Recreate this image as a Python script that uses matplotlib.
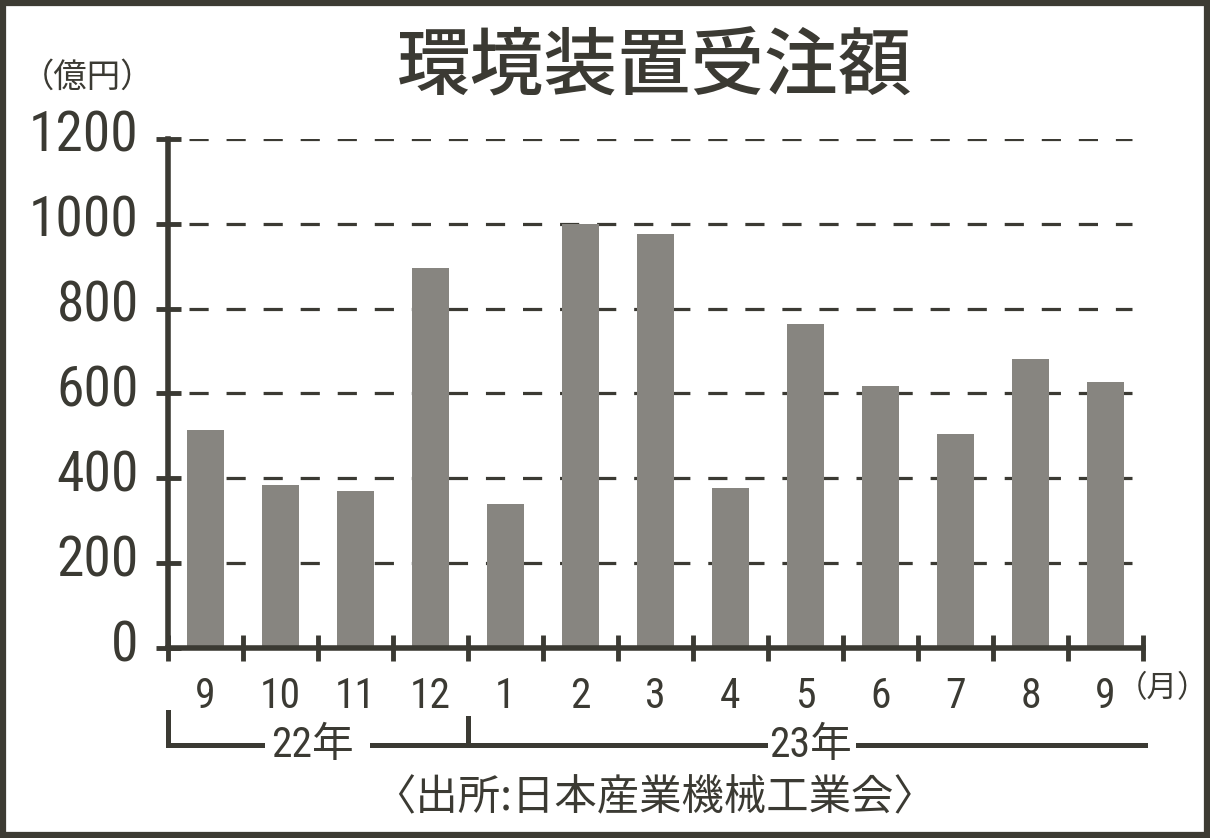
import numpy as np
import matplotlib.pyplot as plt
from matplotlib.patches import Rectangle
from matplotlib.transforms import blended_transform_factory, ScaledTranslation

months = ['9', '10', '11', '12', '1', '2', '3', '4', '5', '6', '7', '8', '9']
orders = [515, 384, 370, 896, 339, 1000, 976, 377, 764, 618, 504, 681, 627]
yticks = [0, 200, 400, 600, 800, 1000, 1200]

ink = '#3b3a33'
bar_col = '#878580'
num_font = ['Roboto Condensed', 'Noto Sans CJK JP', 'DejaVu Sans']
cjk_font = ['Noto Sans CJK JP', 'DejaVu Sans']

fig = plt.figure(figsize=(12.1, 8.38), dpi=100, facecolor='white')
ax = fig.add_axes([168 / 1210, 1 - 648 / 838, 975 / 1210, 509 / 838])
ax.set_facecolor('white')

x = np.arange(len(months))
ax.bar(x, orders, width=0.5, color=bar_col, zorder=2)

ax.set_xlim(-0.5, len(months) - 0.5)
ax.set_ylim(0, 1200)

# dashed grid
for v in yticks[1:]:
    ax.plot([-0.22, 12.35], [v, v], color=ink, lw=2.3, dashes=(6.0, 5.6), zorder=1)

for s in ['top', 'right']:
    ax.spines[s].set_visible(False)
for s in ['left', 'bottom']:
    ax.spines[s].set_linewidth(4)
    ax.spines[s].set_color(ink)
    ax.spines[s].set_zorder(3)

ax.set_yticks(yticks)
ax.set_yticklabels([str(v) for v in yticks], family=num_font, fontsize=40, color=ink)
ax.tick_params(axis='y', direction='inout', length=18, width=3.5, color=ink, pad=12)
off = ScaledTranslation(0, 8 / 100, fig.dpi_scale_trans)
for lab in ax.get_yticklabels():
    lab.set_transform(lab.get_transform() + off)

ax.set_xticks(x)
ax.set_xticklabels(months, family=num_font, fontsize=30, color=ink)
ax.tick_params(axis='x', which='major', length=0, pad=20)
ax.set_xticks(np.arange(-0.5, len(months)), minor=True)
ax.tick_params(axis='x', which='minor', direction='inout', length=19, width=3.5, color=ink)

# year brackets
tr = blended_transform_factory(ax.transData, ax.transAxes)
yb = -97 / 509
lw_b = 3.6
ax.plot([-0.5, -0.5, 0.75], [-64 / 509, yb, yb], color=ink, lw=lw_b, transform=tr,
        clip_on=False, solid_joinstyle='miter')
ax.plot([2.22, 3.5], [yb, yb], color=ink, lw=lw_b, transform=tr, clip_on=False)
ax.plot([3.5, 3.5], [-70 / 509, yb], color=ink, lw=lw_b, transform=tr, clip_on=False)
ax.plot([3.5, 7.46], [yb, yb], color=ink, lw=lw_b, transform=tr, clip_on=False)
ax.plot([8.7, 12.53], [yb, yb], color=ink, lw=lw_b, transform=tr, clip_on=False)
ax.text(1.42, yb, '22年', transform=tr, ha='center', va='center', fontsize=30,
        family=num_font, color=ink)
ax.text(8.07, yb, '23年', transform=tr, ha='center', va='center', fontsize=30,
        family=num_font, color=ink)

fig.text(655 / 1210, 1 - 68 / 838, '環境装置受注額', ha='center', va='center',
         fontsize=53, family=cjk_font, weight=500, color=ink)
fig.text(88 / 1210, 1 - 77 / 838, '（億円）', ha='center', va='center',
         fontsize=24, family=cjk_font, color=ink)
fig.text(1162 / 1210, 1 - 689 / 838, '（月）', ha='center', va='center',
         fontsize=22, family=cjk_font, color=ink)
fig.text(654 / 1210, 1 - 798 / 838, '〈出所:日本産業機械工業会〉', ha='center', va='center',
         fontsize=30.5, family=cjk_font, color=ink)

fig.patches.append(Rectangle((0.0025, 0.0035), 0.995, 0.993, transform=fig.transFigure,
                             fill=False, edgecolor='#3d3b33', lw=4.5))

fig.savefig('out.png', dpi=100, facecolor='white')
